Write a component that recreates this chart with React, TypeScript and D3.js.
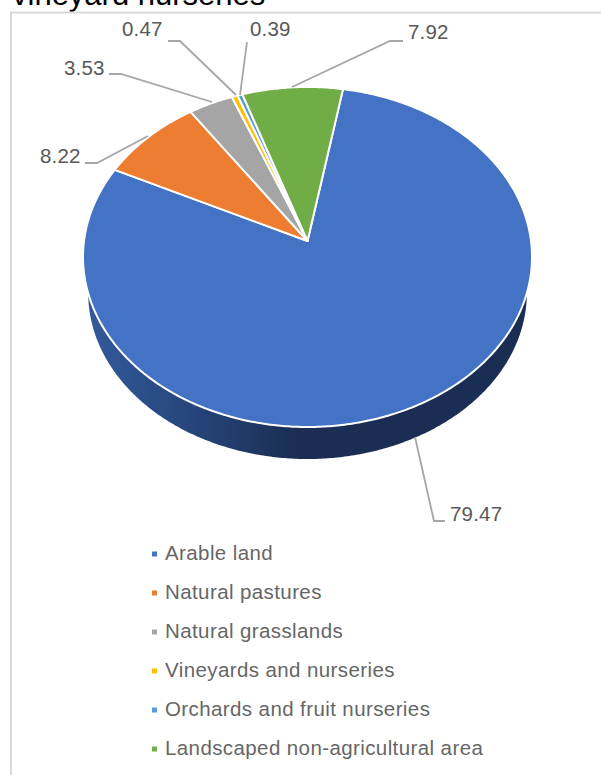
import React from "react";
import * as d3 from "d3";

// Land use shares, in percent
const categories = [
  "Arable land",
  "Natural pastures",
  "Natural grasslands",
  "Vineyards and nurseries",
  "Orchards and fruit nurseries",
  "Landscaped non-agricultural area",
];
const shares = [79.47, 8.22, 3.53, 0.47, 0.39, 7.92];
const sliceColors = ["#4472c4", "#ed7d31", "#a5a5a5", "#ffc000", "#5b9bd5", "#70ad47"];
const titleText = "vineyard nurseries";

// Perspective tilt of the pie disc
const apex = { x: 307.5, y: 241 };
const radiusX = 223.5;
const radiusY = 168.5;
const tilt = 0.094;
const firstSliceAngle = (10 * Math.PI) / 180;
const depth = 36.3;
const bottomScale = 0.977;

// Where each value label and its leader line elbow sit
const labelLayout = [
  { x: 450, y: 521, elbow: [[445, 521], [434, 521]], end: [415, 437] },
  { x: 40, y: 163, elbow: [[85, 163], [97, 163]], end: [148, 136] },
  { x: 64, y: 75, elbow: [[109, 74], [121, 74]], end: [212, 102] },
  { x: 122, y: 36, elbow: [[168, 41], [180, 41]], end: [236, 95] },
  { x: 250, y: 36, elbow: [[247, 42]], end: [240, 95] },
  { x: 408, y: 39, elbow: [[403, 41], [390, 41]], end: [292, 87] },
];
const legendRows = [554, 593, 632, 671, 710, 749];

// Projects an angle on the disc to the screen, clockwise from twelve o'clock
function project(theta: number, scale = 1, offset = 0): [number, number] {
  const u = Math.sin(theta);
  const v = Math.cos(theta);
  const w = 1 + tilt * v;
  return [apex.x + (scale * radiusX * u) / w, apex.y + offset - (scale * radiusY * v) / w];
}

function rimPoints(a0: number, a1: number, scale = 1, offset = 0) {
  const steps = Math.max(2, Math.ceil(Math.abs(a1 - a0) / 0.01));
  return d3.range(steps + 1).map((i) => project(a0 + ((a1 - a0) * i) / steps, scale, offset));
}

const pieLayout = d3
  .pie<number>()
  .sort(null)
  .startAngle(firstSliceAngle)
  .endAngle(firstSliceAngle + 2 * Math.PI);

const line = d3.line();

export default function App() {
  const arcs = pieLayout(shares);

  // The lower disc shows only where it sticks out below the top face
  const wallPath = line(rimPoints(0, 2 * Math.PI, bottomScale, depth)) + "Z";

  return (
    <svg
      width={601}
      height={775}
      viewBox="0 0 601 775"
      style={{ position: "absolute", left: 0, top: 0, display: "block" }}
      fontFamily="'Liberation Sans', Arial, sans-serif"
    >
      <defs>
        <linearGradient id="wallShade" gradientUnits="userSpaceOnUse" x1={85} x2={300} y1={0} y2={0}>
          <stop offset="0" stopColor="#335a9c" />
          <stop offset="0.5" stopColor="#26457a" />
          <stop offset="1" stopColor="#1a2d52" />
        </linearGradient>
      </defs>
      <rect width={601} height={775} fill="#fff" />
      <text x={12} y={4.5} fontSize={31} fill="#000">
        {titleText}
      </text>
      <path d="M11 775V12.5H601" fill="none" stroke="#d9d9d9" strokeWidth={2} />

      <path d={wallPath} fill="url(#wallShade)" />
      {arcs.map((d, i) => (
        <path
          key={categories[i]}
          d={line([[apex.x, apex.y], ...rimPoints(d.startAngle, d.endAngle)]) + "Z"}
          fill={sliceColors[i]}
          stroke="#fff"
          strokeWidth={2}
          strokeLinejoin="round"
        />
      ))}

      {labelLayout.map((p, i) => (
        <g key={i}>
          <path
            d={line([...(p.elbow as [number, number][]), p.end as [number, number]]) ?? ""}
            fill="none"
            stroke="#a6a6a6"
            strokeWidth={1.8}
          />
          <text x={p.x} y={p.y} fontSize={20.5} letterSpacing={0.2} fill="#595959">
            {shares[i].toFixed(2)}
          </text>
        </g>
      ))}

      {categories.map((c, i) => (
        <g key={c}>
          <rect x={152} y={legendRows[i] - 2.5} width={5} height={5} fill={sliceColors[i]} />
          <text x={165} y={legendRows[i] + 6} fontSize={20.5} letterSpacing={0.4} fill="#666">
            {c}
          </text>
        </g>
      ))}
    </svg>
  );
}
